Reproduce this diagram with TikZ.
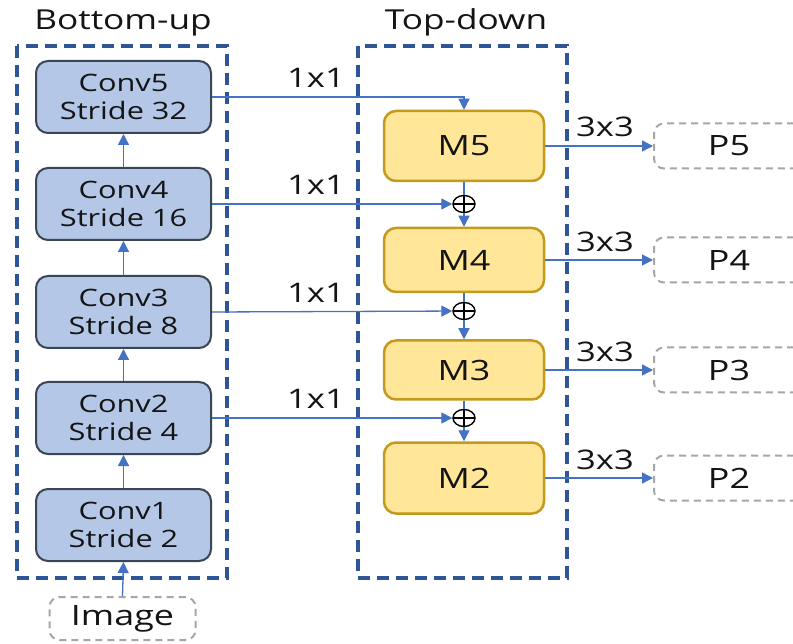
\documentclass[tikz,border=0pt]{standalone}
\usepackage{fontspec}
\setmainfont{Open Sans}[FakeStretch=1.28]
\usetikzlibrary{arrows.meta,shapes.geometric}
\definecolor{framecol}{HTML}{2F5597}
\definecolor{convfill}{HTML}{B4C7E7}
\definecolor{convline}{HTML}{3A4556}
\definecolor{mfill}{HTML}{FFE699}
\definecolor{mline}{HTML}{C49A1C}
\definecolor{pline}{HTML}{A6A6A6}
\definecolor{arrowcol}{HTML}{4472C4}
\definecolor{inkcol}{HTML}{141414}
\begin{document}
\begin{tikzpicture}[x=1pt,y=-1pt,
  every node/.style={font=\fontsize{24}{28}\selectfont, text=inkcol},
  big/.style={font=\fontsize{28}{32}\selectfont},
  title/.style={font=\fontsize{27.5}{31}\selectfont, anchor=base},
  lbl/.style={font=\fontsize{27}{31}\selectfont, anchor=base},
  frame/.style={draw=framecol, line width=4.5pt, dash pattern=on 12pt off 7pt},
  convbox/.style={draw=convline, fill=convfill, line width=2pt, rounded corners=12pt,
    minimum width=175pt, minimum height=72pt, align=center, inner sep=0pt},
  mbox/.style={big, draw=mline, fill=mfill, line width=2.5pt, rounded corners=12pt,
    minimum width=160pt, align=center, inner sep=0pt},
  pbox/.style={big, draw=pline, line width=2pt, dash pattern=on 7pt off 5pt,
    rounded corners=10pt, inner sep=0pt},
  link/.style={draw=arrowcol, line width=1.3pt},
  tip/.style={-{Triangle[length=11pt,width=11pt]}},
  plus/.style={ellipse, draw=black, line width=1.4pt, minimum width=22pt,
    minimum height=17pt, inner sep=0pt,
    path picture={\draw[black, line width=1.4pt]
      (path picture bounding box.north) -- (path picture bounding box.south)
      (path picture bounding box.west) -- (path picture bounding box.east);}}
]
\clip (0,0) rectangle (793,644);
\fill[white] (0,0) rectangle (793,644);

% group titles
\node[title] (tb) at (123,30) {Bottom-up};
\node[title] (tt) at (466,30) {Top-down};

% dashed group frames
\draw[frame] (17,46) rectangle (227,578);
\draw[frame] (358,46) rectangle (567,578);

% bottom-up pathway
\node[convbox] (c5) at (123.5,97)  {Conv5\\Stride 32};
\node[convbox] (c4) at (123.5,204) {Conv4\\Stride 16};
\node[convbox] (c3) at (123.5,312) {Conv3\\Stride 8};
\node[convbox] (c2) at (123.5,418) {Conv2\\Stride 4};
\node[convbox] (c1) at (123.5,525) {Conv1\\Stride 2};
\node[pbox, minimum width=146pt, minimum height=43pt] (img) at (122.5,618.5) {Image};

% top-down pathway
\node[mbox, minimum height=70pt] (m5) at (464,146) {M5};
\node[mbox, minimum height=64pt] (m4) at (464,260) {M4};
\node[mbox, minimum height=59pt] (m3) at (464,370) {M3};
\node[mbox, minimum height=71pt] (m2) at (464,478) {M2};
\node[plus] (pl1) at (464,204) {};
\node[plus] (pl2) at (464,311) {};
\node[plus] (pl3) at (464,418) {};

% outputs
\node[pbox, anchor=west, minimum width=150pt, minimum height=45pt] (p5) at (653,146) {P5};
\node[pbox, anchor=west, minimum width=150pt, minimum height=45pt] (p4) at (653,260) {P4};
\node[pbox, anchor=west, minimum width=150pt, minimum height=45pt] (p3) at (653,370) {P3};
\node[pbox, anchor=west, minimum width=150pt, minimum height=45pt] (p2) at (653,478) {P2};

% bottom-up connections
\draw[link,tip] (img.north) -- (c1.south);
\draw[link,tip] (c1.north) -- (c2.south);
\draw[link,tip] (c2.north) -- (c3.south);
\draw[link,tip] (c3.north) -- (c4.south);
\draw[link,tip] (c4.north) -- (c5.south);

% lateral 1x1 connections
\draw[link,tip] (c5.east) -| (m5.north);
\draw[link,tip] (c4.east) -- (pl1);
\draw[link,tip] (c3.east) -- (pl2);
\draw[link,tip] (c2.east) -- (pl3);
\node[lbl] (k5) at (316,88)  {1x1};
\node[lbl] (k4) at (316,195) {1x1};
\node[lbl] (k3) at (316,303) {1x1};
\node[lbl] (k2) at (316,409) {1x1};

% top-down merges
\draw[link] (m5.south) -- (pl1.north);
\draw[link,tip] (pl1.south) -- (m4.north);
\draw[link] (m4.south) -- (pl2.north);
\draw[link,tip] (pl2.south) -- (m3.north);
\draw[link] (m3.south) -- (pl3.north);
\draw[link,tip] (pl3.south) -- (m2.north);

% 3x3 output connections
\draw[link,tip] (m5.east) -- (p5.west);
\draw[link,tip] (m4.east) -- (p4.west);
\draw[link,tip] (m3.east) -- (p3.west);
\draw[link,tip] (m2.east) -- (p2.west);
\node[lbl] (t5) at (605,137) {3x3};
\node[lbl] (t4) at (605,252) {3x3};
\node[lbl] (t3) at (605,362) {3x3};
\node[lbl] (t2) at (605,469) {3x3};
\end{tikzpicture}
\end{document}
